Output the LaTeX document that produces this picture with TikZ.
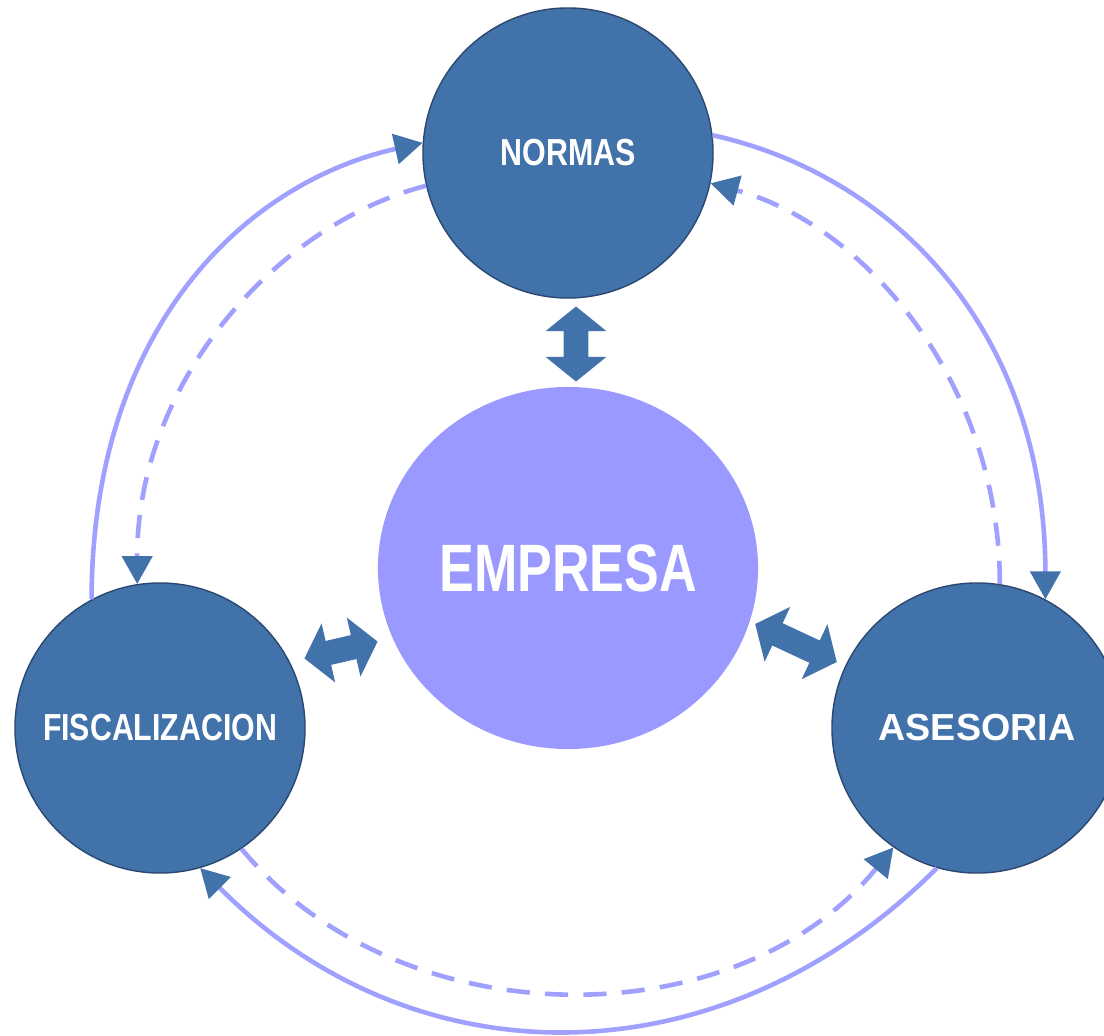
\documentclass[tikz,border=0pt]{standalone}
\usepackage{fontspec}
\setmainfont{Liberation Sans}
\usetikzlibrary{arrows.meta,shapes.geometric,shapes.arrows}
\definecolor{circblue}{RGB}{66,114,170}
\definecolor{circedge}{RGB}{44,72,112}
\definecolor{empviolet}{RGB}{153,153,255}
\definecolor{linkviolet}{RGB}{160,160,255}
\tikzset{
	area/.style={circle, fill=circblue, draw=circedge, line width=1pt, minimum size=7.25cm, inner sep=0pt, text=white, font=\fontsize{26.8}{30}\selectfont\bfseries},
	link/.style={draw=linkviolet, line width=0.115cm, -{Triangle[length=0.7cm,width=0.75cm,color=circblue]}},
	backlink/.style={link, dash pattern=on 0.58cm off 0.38cm},
	swap/.style={double arrow, fill=circblue, inner xsep=0pt, inner ysep=0.3cm, double arrow head extend=0.45cm, double arrow tip angle=102}
}
\begin{document}
\begin{tikzpicture}[x=0.025cm, y=-0.025cm]
		\useasboundingbox (0,0) rectangle (1104,1036);
		
		\node [ellipse, fill=empviolet, minimum width=9.5cm, minimum height=9.05cm, inner sep=0pt, text=white, font=\fontsize{47.7}{50}\selectfont\bfseries] (empresa) at (568,568) {\scalebox{0.776}[1]{EMPRESA}};
		\node [area] (normas) at (568,153) {\scalebox{0.806}[1]{NORMAS}};
		\node [area] (fisc) at (160,728) {\scalebox{0.804}[1]{FISCALIZACION}};
		\node [area] (asesoria) at (977,728) {ASESORIA};
		
		% outer ring
		\draw [link] (fisc.118) .. controls (92,330) and (243,183) .. (normas.176);
		\draw [link] (normas.7) .. controls (893,175) and (1045,330) .. (asesoria.62);
		\draw [link] (asesoria.254) .. controls (722,1083) and (415,1085) .. (fisc.286);
		
		% inner ring
		\draw [backlink] (normas.193) .. controls (275,225) and (137,383) .. (fisc.99);
		\draw [backlink] (asesoria.81) .. controls (1000,383) and (865,225) .. (normas.348);
		\draw [backlink] (fisc.304) .. controls (400,1040) and (736,1040) .. (asesoria.235);
		
		\node [swap, minimum height=1.875cm, rotate=90] (swapn) at (576,344) {};
		\node [swap, minimum height=1.875cm, rotate=13] (swapf) at (341,650) {};
		\node [swap, minimum height=2.25cm, rotate=-25] (swapa) at (796,643) {};
	\end{tikzpicture}
\end{document}
